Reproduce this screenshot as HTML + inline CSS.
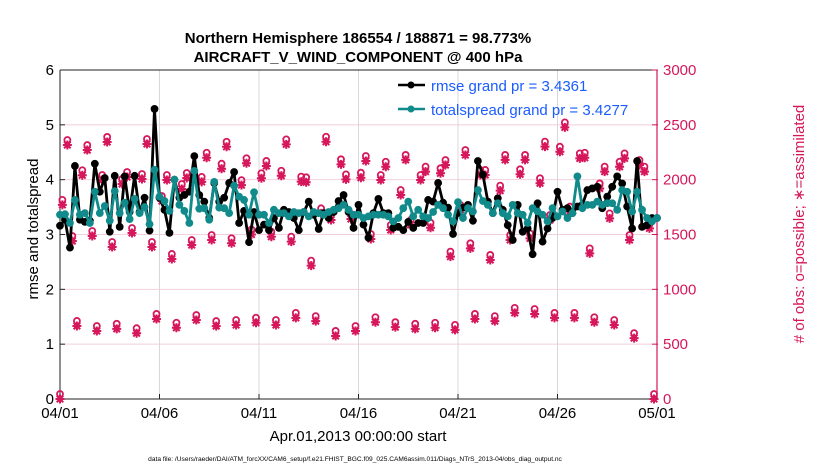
<!DOCTYPE html>
<html><head><meta charset="utf-8"><style>
body{margin:0;background:#fff;}
svg{display:block;font-family:"Liberation Sans",Arial,sans-serif;}
</style></head><body>
<svg id="chart" width="830" height="470" xmlns="http://www.w3.org/2000/svg">
<text x="358" y="43" text-anchor="middle" font-size="15" font-weight="bold">Northern Hemisphere 186554 / 188871 = 98.773%</text>
<text x="358" y="62" text-anchor="middle" font-size="15" font-weight="bold">AIRCRAFT_V_WIND_COMPONENT @ 400 hPa</text>
<g id="grid"></g>
<g id="axes"></g>
<g id="obs"></g>
<g id="series"></g>
<text transform="translate(38,229) rotate(-90)" text-anchor="middle" font-size="15">rmse and totalspread</text>
<text transform="translate(804,224) rotate(-90)" text-anchor="middle" font-size="15" fill="#d6175b"># of obs: o=possible; ∗=assimilated</text>
<text x="358" y="441" text-anchor="middle" font-size="15">Apr.01,2013 00:00:00 start</text>
<text x="355" y="461" text-anchor="middle" font-size="6.6">data file: /Users/raeder/DAI/ATM_forcXX/CAM6_setup/f.e21.FHIST_BGC.f09_025.CAM6assim.011/Diags_NTrS_2013-04/obs_diag_output.nc</text>
<g>
<line x1="398" y1="85" x2="425" y2="85" stroke="#000" stroke-width="2.5"/><circle cx="411" cy="85" r="3.5" fill="#000"/>
<text x="431" y="91" font-size="15" fill="#1a5cff">rmse grand pr = 3.4361</text>
<line x1="398" y1="109" x2="425" y2="109" stroke="#108a8a" stroke-width="2.5"/><circle cx="411" cy="109" r="3.5" fill="#108a8a"/>
<text x="431" y="115" font-size="15" fill="#1a5cff">totalspread grand pr = 3.4277</text>
</g>
</svg>
<script>
const rmse=[3.16,3.27,2.76,4.25,3.27,3.23,3.25,4.29,3.78,4.03,3.05,4.07,3.14,4.06,3.41,4.07,3.41,3.67,3.07,5.29,3.67,3.45,3.03,4.0,3.67,3.72,3.78,4.43,3.72,3.6,3.3,3.94,3.6,3.67,3.94,4.14,3.21,3.43,2.86,3.41,3.08,
3.18,3.08,3.3,3.12,3.45,3.41,3.3,3.08,3.41,3.6,3.36,3.1,3.39,3.3,3.41,3.61,3.72,3.41,3.12,3.54,3.18,2.94,3.39,3.65,3.39,3.39,3.12,3.14,3.08,3.23,3.12,3.21,3.21,3.63,3.6,3.94,3.58,3.49,3.01,3.39,3.49,
3.54,3.25,4.34,4.09,3.6,3.39,3.66,3.45,3.17,2.9,3.54,3.05,3.11,2.64,3.57,2.87,3.11,3.3,3.78,3.45,3.48,3.39,3.51,3.54,3.81,3.84,3.87,3.48,3.69,3.87,4.06,3.93,3.51,3.11,4.34,3.14,3.17,3.3,3.3];
const spread=[3.36,3.37,3.21,3.63,3.36,3.39,3.21,3.78,3.39,3.52,3.25,3.79,3.39,3.58,3.28,3.65,3.39,3.5,3.19,4.18,3.69,3.61,3.43,4.0,3.54,3.43,3.21,4.16,3.47,3.48,3.27,3.96,3.49,3.48,3.39,3.89,3.69,3.63,3.36,3.77,3.36,
3.36,3.21,3.45,3.39,3.39,3.33,3.41,3.39,3.41,3.33,3.41,3.39,3.36,3.41,3.45,3.48,3.54,3.45,3.36,3.36,3.3,3.33,3.36,3.36,3.36,3.33,3.24,3.3,3.48,3.6,3.33,3.45,3.33,3.3,3.41,3.54,3.48,3.36,3.24,3.59,3.3,
3.48,3.42,3.81,3.61,3.54,3.39,3.57,3.39,3.33,3.54,3.39,3.36,3.21,3.48,3.42,3.36,3.24,3.48,3.33,3.42,3.3,3.39,4.06,3.48,3.54,3.54,3.6,3.54,3.57,3.57,3.45,3.81,3.78,3.42,3.78,3.45,3.3,3.24,3.3];
const obsA=[1770,2040,1997,1960,2006,1805,1915,1980,2100,1950,2013,2036,1982,1693,2140,2018,1997,1860,1997,2058,1723,2043,1900,2049,1967,2255,2194,1920,2118,2134];
const obsB=[2316,2270,2344,2024,2325,1997,2015,2200,2300,2150,2125,2322,1976,2346,2003,2170,2118,2180,2073,2134,2225,2043,2180,2180,2301,2477,2200,2073,2194,2073];
const obsC=[1441,1486,1386,1514,1386,1277,1404,1450,1420,1500,1480,1435,1216,1632,1641,1459,1541,1587,1562,1298,1374,1268,1450,1465,1632,1709,1328,1647,1450,1556];
const obsLow=[666,620,640,600,730,650,720,665,675,695,675,740,710,575,620,700,655,640,650,630,730,710,785,775,740,740,700,675,555,0];
const obsStart=[0];
const yTicks=[0,1,2,3,4,5,6];
const rTicks=[0,500,1000,1500,2000,2500,3000];
const xTickDays=[0,5,10,15,20,25,30];
const xTickLabels=['04/01','04/06','04/11','04/16','04/21','04/26','05/01'];

const NS='http://www.w3.org/2000/svg';
const X0=60,X1=657,Y0=399,Y1=70;
const xs=d=>X0+d/30*(X1-X0);
const ys=v=>Y0-v/6*(Y0-Y1);
const yr=v=>Y0-v/3000*(Y0-Y1);
function mk(tag,attrs,parent){const e=document.createElementNS(NS,tag);for(const k in attrs)e.setAttribute(k,attrs[k]);parent.appendChild(e);return e;}
const grid=document.getElementById('grid'),axes=document.getElementById('axes'),obs=document.getElementById('obs'),series=document.getElementById('series');
const PINK='#d6175b';
rTicks.forEach(v=>{const l=mk('line',{x1:X0,x2:X1,y1:yr(v),y2:yr(v),stroke:'#f2cfdc','stroke-width':1},grid);

});
xTickDays.forEach(d=>{const l=mk('line',{x1:xs(d),x2:xs(d),y1:Y1,y2:Y0,stroke:'#d8d8d8','stroke-width':1},grid);

});
mk('line',{x1:X0,x2:X0,y1:Y1,y2:Y0,stroke:'#222','stroke-width':1},axes);
mk('line',{x1:X0,x2:X1,y1:Y0,y2:Y0,stroke:'#222','stroke-width':1},axes);
mk('line',{x1:X0,x2:X1,y1:Y1,y2:Y1,stroke:'#222','stroke-width':1},axes);
mk('line',{x1:X1,x2:X1,y1:Y1,y2:Y0,stroke:PINK,'stroke-width':1.2},axes);
yTicks.forEach(v=>{mk('line',{x1:X0,x2:X0+5,y1:ys(v),y2:ys(v),stroke:'#222'},axes);
const t=mk('text',{x:X0-6,y:ys(v)+5,'text-anchor':'end','font-size':15},axes);t.textContent=v;

});
rTicks.forEach(v=>{mk('line',{x1:X1-5,x2:X1+1,y1:yr(v),y2:yr(v),stroke:PINK},axes);
const t=mk('text',{x:X1+6,y:yr(v)+5,'font-size':15,fill:PINK},axes);t.textContent=v;

});
xTickDays.forEach((d,i)=>{mk('line',{x1:xs(d),x2:xs(d),y1:Y0,y2:Y0-5,stroke:'#222'},axes);
const t=mk('text',{x:xs(d),y:Y0+19,'text-anchor':'middle','font-size':15},axes);t.textContent=xTickLabels[i];

});
function obsMarker(d,v){const g=mk('g',{},obs);


const x=xs(d),y=yr(v);
mk('circle',{cx:x,cy:y-5,r:3,fill:'none',stroke:PINK,'stroke-width':1.8},g);
mk('path',{d:`M${x-4.5} ${y}H${x+4.5}M${x} ${y-4.5}V${y+4.5}M${x-3.3} ${y-3.3}L${x+3.3} ${y+3.3}M${x-3.3} ${y+3.3}L${x+3.3} ${y-3.3}`,stroke:PINK,'stroke-width':2},g);
mk('circle',{cx:x,cy:y,r:3,fill:PINK},g);}
for(let k=0;k<30;k++){obsMarker(k+0.12,obsA[k]);obsMarker(k+0.37,obsB[k]);obsMarker(k+0.62,obsC[k]);obsMarker(k+0.85,obsLow[k]);}
obsStart.forEach(v=>obsMarker(0,v));
function line(arr,color,name){const p=arr.map((v,i)=>`${i?'L':'M'}${xs(i*0.25).toFixed(1)} ${ys(v).toFixed(1)}`).join('');
const pl=mk('path',{d:p,fill:'none',stroke:color,'stroke-width':2.8,'stroke-linejoin':'round'},series);


arr.forEach((v,i)=>{const c=mk('circle',{cx:xs(i*0.25),cy:ys(v),r:3.9,fill:color},series);

});}
line(rmse,'#000','rmse');
line(spread,'#108a8a','totalspread');
</script>
</body></html>
